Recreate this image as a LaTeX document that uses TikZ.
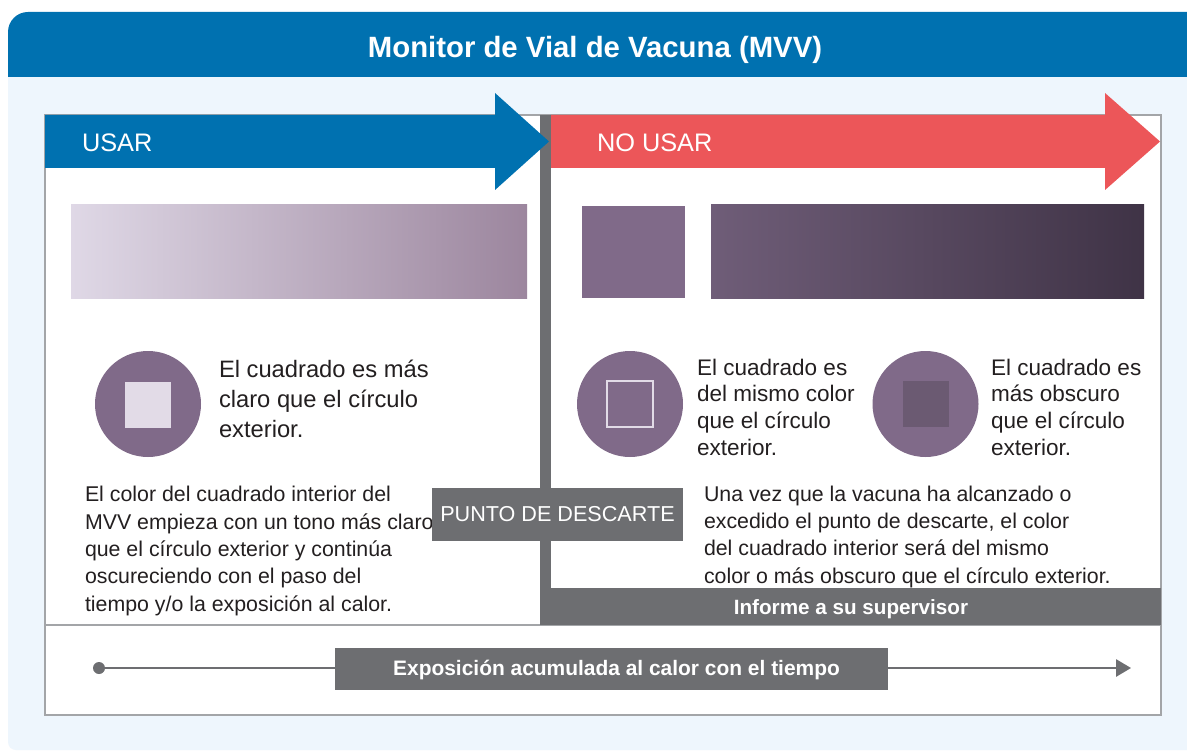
\documentclass[tikz,border=0pt]{standalone}
\usepackage{fontspec}
\setmainfont{Liberation Sans}
\usetikzlibrary{arrows.meta}
\definecolor{hdrblue}{HTML}{0071B0}
\definecolor{bgblue}{HTML}{EEF6FD}
\definecolor{redc}{HTML}{EC5659}
\definecolor{grayc}{HTML}{6D6E71}
\definecolor{bordergray}{HTML}{A3A5A8}
\definecolor{purp}{HTML}{806A89}
\definecolor{lightsq}{HTML}{E2DBE7}
\definecolor{darksq}{HTML}{6B5A72}
\definecolor{gLa}{HTML}{DFD8E6}
\definecolor{gLb}{HTML}{9C869E}
\definecolor{gRa}{HTML}{6F5D78}
\definecolor{gRb}{HTML}{3F3346}
\definecolor{txt}{HTML}{231F20}
\begin{document}
\begin{tikzpicture}[x=0.75pt,y=-0.75pt,
  every node/.style={inner sep=0pt, outer sep=0pt},
  bodytext/.style={anchor=base west, align=left, text=txt, font=\fontsize{16}{20.5}\selectfont},
  circtextL/.style={anchor=base west, align=left, text=txt, font=\fontsize{17.8}{22.5}\selectfont},
  circtext/.style={anchor=base west, align=left, text=txt, font=\fontsize{16.9}{20}\selectfont},
  bandlabel/.style={anchor=base west, text=white, font=\fontsize{19}{23}\selectfont},
  disc/.style={circle, fill=purp, minimum size=79.5pt},
  sq/.style={rectangle, minimum size=34.5pt},
  graybox/.style={rectangle, fill=grayc},
]
\clip (0,0) rectangle (1187,752);
\fill[white] (0,0) rectangle (1187,752);
% panel
\fill[bgblue] (8,77) [rounded corners=6] -- (8,750) -- (1215,750) [sharp corners] -- (1215,77) -- cycle;
\fill[hdrblue] (8,77) [rounded corners=15] -- (8,12) -- (1215,12) [sharp corners] -- (1215,77) -- cycle;
\node[anchor=base, text=white, font=\bfseries\fontsize{22}{26}\selectfont] (title) at (595,58) {Monitor de Vial de Vacuna (MVV)};
% white box
\draw[bordergray, line width=1pt, fill=white] (45,115) rectangle (1161,715);
\draw[bordergray, line width=1pt] (45,625) -- (1161,625);
% gray divider and bar
\fill[grayc] (540,115) rectangle (551,625);
\fill[grayc] (540,588) rectangle (1161,625);
% arrows
\fill[hdrblue] (45,115) -- (495,115) -- (495,93) -- (549,141.5) -- (495,190) -- (495,168) -- (45,168) -- cycle;
\fill[redc] (551,115) -- (1105,115) -- (1105,93) -- (1160,141.5) -- (1105,190) -- (1105,168) -- (551,168) -- cycle;
\node[bandlabel] (usar) at (82,151.7) {USAR};
\node[bandlabel] (nousar) at (597,151.7) {NO USAR};
% colour bars
\shade[left color=gLa, right color=gLb] (71,205) rectangle (527,298);
\fill[purp] (582,206) rectangle (685,298);
\shade[left color=gRa, right color=gRb] (711,205) rectangle (1144,298);
% discs
\node[disc] (c1) at (148,404) {};
\node[sq, fill=lightsq] (s1) at (148,404.5) {};
\node[disc] (c2) at (630,404) {};
\node[sq, draw=lightsq, line width=1.5pt] (s2) at (630,404) {};
\node[disc] (c3) at (925.5,404) {};
\node[sq, fill=darksq] (s3) at (925.5,404) {};
% (base anchor of a multi-line node = baseline of its last line)
\node[circtextL] (t1) at (219,437.3) {El cuadrado es más\\claro que el círculo\\exterior.};
\node[circtext] (t2) at (697,455) {El cuadrado es\\del mismo color\\que el círculo\\exterior.};
\node[circtext] (t3) at (991,455) {El cuadrado es\\más obscuro\\que el círculo\\exterior.};
% body texts
\node[bodytext] (b1) at (85,611) {El color del cuadrado interior del\\MVV empieza con un tono más claro\\que el círculo exterior y continúa\\oscureciendo con el paso del\\tiempo y/o la exposición al calor.};
\node[bodytext] (b2) at (704,583) {Una vez que la vacuna ha alcanzado o\\excedido el punto de descarte, el color\\del cuadrado interior será del mismo\\color o más obscuro que el círculo exterior.};
\node[graybox, minimum width=188.25pt, minimum height=39.75pt, text=white, font=\fontsize{16.2}{19}\selectfont] (punto) at (557.5,514.5) {PUNTO DE DESCARTE};
\node[anchor=base, text=white, font=\bfseries\fontsize{15.5}{18}\selectfont] (inf) at (851,614) {Informe a su supervisor};
% time axis
\node[circle, fill=grayc, minimum size=9pt] (dot) at (99,668) {};
\coordinate (axend) at (1131,668);
\draw[grayc, line width=1.3pt, -{Triangle[length=11.25pt,width=13pt]}] (dot) -- (axend);
\node[graybox, minimum width=414.75pt, minimum height=31.5pt] (expbox) at (611.5,669) {};
\node[anchor=base, text=white, font=\bfseries\fontsize{15.7}{18}\selectfont] (exp) at (616.5,675) {Exposición acumulada al calor con el tiempo};
\end{tikzpicture}
\end{document}
